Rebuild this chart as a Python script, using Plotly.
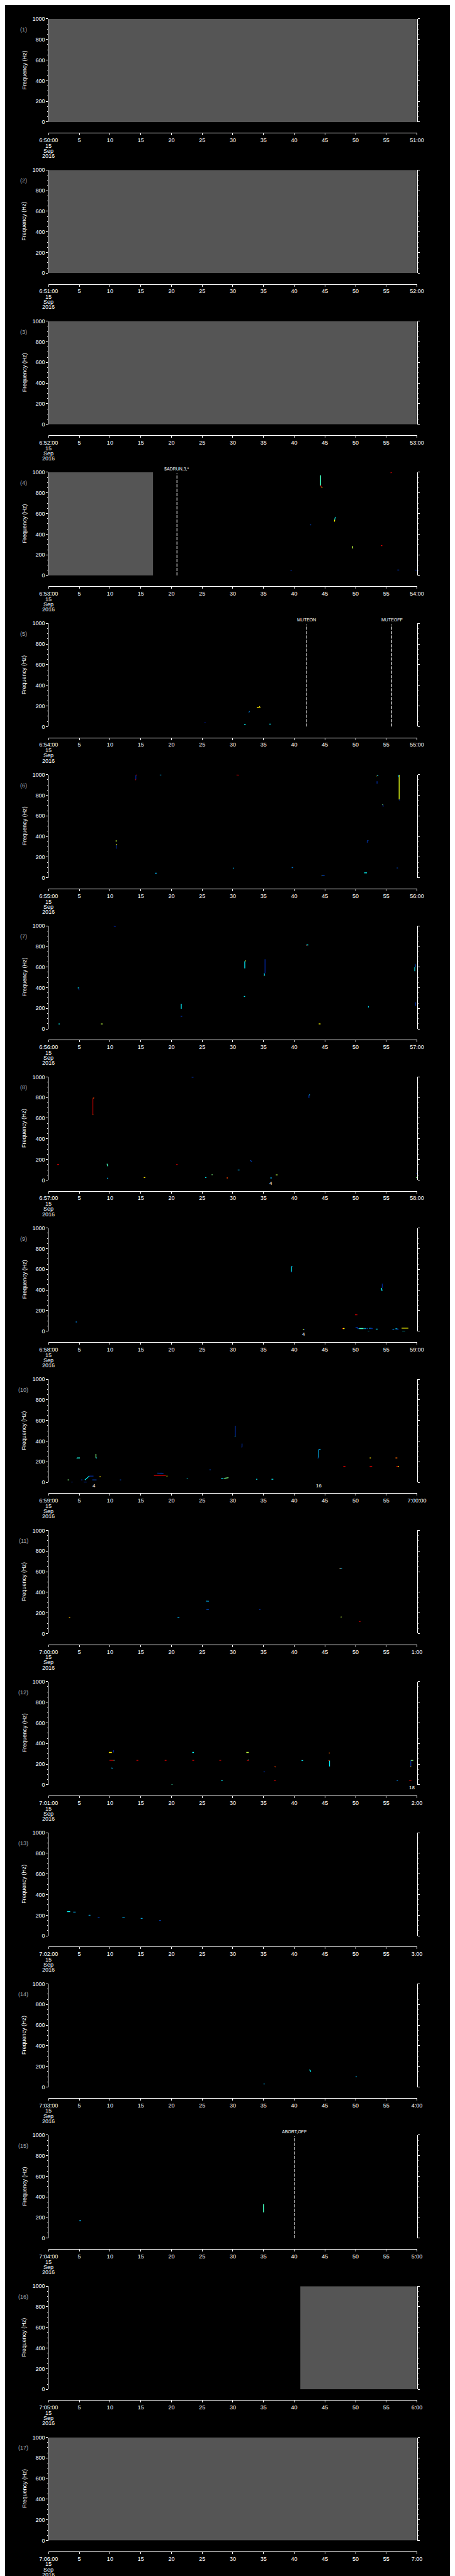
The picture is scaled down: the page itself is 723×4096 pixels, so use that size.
import plotly.graph_objects as go
from plotly.colors import sample_colorscale

# ---------------- data ----------------
PANEL_STARTS = ["6:50:00", "6:51:00", "6:52:00", "6:53:00", "6:54:00", "6:55:00",
                "6:56:00", "6:57:00", "6:58:00", "6:59:00", "7:00:00", "7:01:00",
                "7:02:00", "7:03:00", "7:04:00", "7:05:00", "7:06:00"]
PANEL_ENDS = ["51:00", "52:00", "53:00", "54:00", "55:00", "56:00", "57:00", "58:00",
              "59:00", "7:00:00", "1:00", "2:00", "3:00", "4:00", "5:00", "6:00", "7:00"]
TICK_SECONDS = [0, 5, 10, 15, 20, 25, 30, 35, 40, 45, 50, 55, 60]
FREQ_TICKS = [0, 200, 400, 600, 800, 1000]
DATE_LINES = ["15", "Sep", "2016"]

# (panel, start s, end s) spans without data
NO_DATA = [(1, 0, 60), (2, 0, 60), (3, 0, 60), (4, 0, 17.0), (16, 41.0, 60), (17, 0, 60)]
# (panel, second, label)
EVENTS = [(4, 20.9, "$ADRUN,3,*"), (5, 42.0, "MUTEON"), (5, 55.9, "MUTEOFF"), (15, 40.0, "ABORT,OFF")]
# (panel, second, label) small counters under the plot
COUNTS = [(8, 36.2, "4"), (9, 41.5, "4"), (10, 7.4, "4"), (10, 44.0, "16"), (12, 59.2, "18")]

# marks: (t0 s, t1 s, f0 Hz, f1 Hz, intensity 0..1)
MARKS_4 = [(44.3, 44.3, 970, 872, 0.45), (44.3, 44.45, 872, 855, 0.87), (44.45, 44.6, 855, 852, 0.62),
           (42.6, 42.75, 494, 488, 0.2), (46.7, 46.6, 568, 540, 0.4), (46.6, 46.55, 540, 522, 0.6),
           (49.5, 49.55, 284, 262, 0.55), (54.15, 54.35, 289, 289, 0.8), (55.7, 55.9, 995, 998, 0.87),
           (39.4, 39.6, 49, 49, 0.15), (56.8, 57.1, 53, 53, 0.15), (59.7, 60.0, 53, 50, 0.15)]
MARKS_5 = [(25.4, 25.55, 41, 41, 0.08), (31.85, 32.1, 23, 22, 0.4), (32.6, 32.75, 137, 150, 0.25),
           (33.9, 34.5, 187, 187, 0.62), (34.35, 34.4, 198, 188, 0.62), (35.95, 36.2, 24, 24, 0.38)]
MARKS_6 = [(14.2, 14.2, 995, 952, 0.12), (14.2, 14.4, 998, 998, 0.87), (14.1, 14.2, 952, 948, 0.87),
           (18.1, 18.35, 998, 998, 0.3), (30.6, 31.0, 998, 996, 0.87), (53.5, 53.7, 995, 990, 0.3),
           (53.45, 53.5, 988, 985, 0.62), (53.5, 53.5, 935, 912, 0.15), (57.1, 57.1, 1000, 758, 0.58),
           (56.95, 57.05, 995, 975, 0.3), (57.1, 57.2, 758, 750, 0.15), (54.45, 54.5, 712, 690, 0.15),
           (54.4, 54.45, 712, 705, 0.5), (10.9, 11.15, 357, 357, 0.55), (11.0, 11.0, 320, 282, 0.15),
           (11.0, 11.15, 322, 322, 0.6), (51.9, 51.9, 358, 340, 0.15), (51.9, 52.1, 360, 360, 0.2),
           (17.3, 17.6, 44, 44, 0.3), (30.0, 30.2, 92, 95, 0.3), (39.6, 39.85, 99, 99, 0.25),
           (44.5, 44.95, 20, 22, 0.2), (44.5, 44.55, 18, 20, 0.6), (51.4, 51.85, 48, 48, 0.4),
           (56.7, 56.9, 95, 95, 0.2)]
MARKS_7 = [(10.6, 10.9, 999, 990, 0.1), (42.0, 42.3, 814, 814, 0.4), (41.95, 42.0, 812, 806, 0.85),
           (31.95, 31.95, 655, 587, 0.38), (32.0, 32.15, 660, 660, 0.55), (35.25, 35.25, 676, 540, 0.12),
           (35.1, 35.2, 540, 516, 0.35), (35.05, 35.1, 516, 514, 0.62), (59.65, 59.65, 598, 560, 0.38),
           (59.7, 59.8, 630, 598, 0.2), (4.75, 4.95, 397, 397, 0.4), (4.9, 4.95, 394, 376, 0.12),
           (21.6, 21.6, 244, 196, 0.38), (31.8, 32.0, 315, 315, 0.38), (21.5, 21.75, 122, 122, 0.15),
           (52.1, 52.1, 222, 208, 0.35), (59.8, 59.8, 258, 225, 0.15), (1.6, 1.8, 49, 49, 0.4),
           (8.5, 8.8, 49, 49, 0.55), (44.0, 44.3, 49, 49, 0.6)]
MARKS_8 = [(23.3, 23.6, 997, 997, 0.15), (7.2, 7.2, 790, 634, 0.92), (7.2, 7.4, 793, 797, 0.75),
           (7.2, 7.25, 636, 632, 0.72), (42.4, 42.4, 824, 796, 0.15), (42.4, 42.6, 826, 826, 0.3),
           (1.4, 1.7, 151, 151, 0.9), (9.5, 9.65, 158, 134, 0.45), (20.8, 21.0, 151, 151, 0.85),
           (32.8, 33.1, 192, 180, 0.2), (30.8, 31.1, 98, 98, 0.3), (26.55, 26.7, 52, 52, 0.5),
           (9.5, 9.7, 18, 18, 0.3), (15.5, 15.75, 25, 25, 0.62), (25.5, 25.7, 25, 25, 0.38),
           (29.0, 29.2, 21, 21, 0.75), (36.1, 36.35, 21, 21, 0.3), (37.0, 37.3, 51, 51, 0.55),
           (59.85, 60.0, 63, 63, 0.15), (59.85, 60.0, 25, 25, 0.5)]
MARKS_9 = [(39.55, 39.55, 626, 578, 0.38), (39.5, 39.55, 578, 570, 0.12), (39.55, 39.7, 628, 628, 0.3),
           (54.35, 54.35, 462, 420, 0.12), (54.2, 54.3, 420, 398, 0.38), (54.2, 54.35, 404, 392, 0.38),
           (4.4, 4.6, 90, 90, 0.25), (41.4, 41.6, 18, 18, 0.55), (41.6, 41.8, 18, 18, 0.15),
           (49.9, 50.3, 159, 159, 0.85), (47.8, 47.95, 25, 25, 0.85), (47.95, 48.2, 26, 26, 0.6),
           (50.0, 50.4, 38, 38, 0.15), (50.3, 50.6, 25, 25, 0.2), (50.6, 51.3, 26, 26, 0.45),
           (51.4, 51.7, 26, 26, 0.3), (51.8, 52.0, 26, 26, 0.2), (52.2, 52.6, 28, 28, 0.3),
           (52.4, 52.8, 26, 26, 0.15), (53.3, 53.6, 21, 21, 0.35), (52.0, 52.25, 0, 0, 0.35),
           (56.0, 56.3, 18, 20, 0.25), (56.5, 56.8, 24, 24, 0.38), (56.6, 57.0, 20, 20, 0.2),
           (57.5, 58.6, 30, 30, 0.6), (57.6, 58.1, 0, 0, 0.38)]
MARKS_10 = [(30.4, 30.4, 550, 450, 0.15), (30.3, 30.45, 447, 447, 0.3), (31.5, 31.5, 376, 345, 0.15),
            (31.4, 31.55, 343, 343, 0.12), (43.95, 43.95, 318, 240, 0.3), (44.0, 44.3, 320, 320, 0.3),
            (43.8, 44.0, 236, 236, 0.2), (4.6, 5.1, 237, 237, 0.42), (4.55, 4.65, 233, 237, 0.38),
            (7.7, 7.7, 275, 237, 0.5), (7.7, 7.85, 237, 237, 0.35), (48.0, 48.35, 156, 156, 0.85),
            (52.3, 52.7, 156, 156, 0.87), (56.65, 57.0, 156, 156, 0.87), (56.9, 57.05, 156, 156, 0.6),
            (52.3, 52.5, 237, 237, 0.62), (56.5, 56.8, 237, 237, 0.72), (17.15, 19.1, 66, 66, 0.9),
            (17.7, 18.7, 90, 88, 0.18), (26.2, 26.4, 124, 122, 0.2), (22.5, 22.6, 38, 35, 0.38),
            (28.1, 28.5, 40, 35, 0.35), (28.6, 29.3, 40, 46, 0.5), (33.8, 34.0, 31, 31, 0.38),
            (36.3, 36.6, 31, 31, 0.38), (5.9, 6.6, 24, 61, 0.38), (6.6, 7.3, 61, 61, 0.15),
            (3.1, 3.3, 24, 24, 0.5), (3.7, 3.9, 3, 3, 0.15), (5.3, 5.5, 24, 24, 0.15),
            (5.7, 6.2, 3, 3, 0.15), (7.1, 7.8, 24, 24, 0.2), (11.6, 11.8, 24, 24, 0.2),
            (8.3, 8.45, 57, 57, 0.62), (19.2, 19.35, 61, 61, 0.6)]
MARKS_11 = [(3.3, 3.5, 155, 155, 0.65), (21.0, 21.3, 157, 155, 0.3), (25.6, 26.1, 315, 313, 0.3),
            (25.7, 26.1, 232, 232, 0.2), (34.3, 34.5, 232, 232, 0.15), (47.4, 47.8, 632, 632, 0.3),
            (47.4, 47.55, 630, 628, 0.72), (47.6, 47.7, 162, 158, 0.55), (50.6, 50.8, 116, 116, 0.87)]
MARKS_12 = [(9.8, 10.3, 313, 313, 0.62), (10.55, 10.55, 334, 313, 0.12), (9.9, 10.6, 236, 236, 0.9),
            (10.6, 10.7, 236, 236, 0.45), (10.2, 10.45, 162, 160, 0.3), (14.3, 14.6, 236, 236, 0.85),
            (18.9, 19.2, 236, 236, 0.85), (23.4, 23.65, 313, 313, 0.4), (23.4, 23.7, 236, 236, 0.85),
            (27.8, 28.1, 236, 236, 0.9), (32.3, 32.6, 236, 236, 0.87), (32.5, 32.6, 240, 240, 0.45),
            (32.2, 32.6, 313, 313, 0.55), (20.0, 20.2, 0, 0, 0.45), (28.1, 28.35, 43, 43, 0.38),
            (35.0, 35.25, 125, 125, 0.15), (36.8, 37.0, 175, 172, 0.75), (36.7, 37.0, 43, 43, 0.85),
            (41.2, 41.45, 235, 235, 0.38), (45.65, 45.8, 308, 308, 0.72), (45.75, 45.75, 233, 178, 0.38),
            (45.6, 45.75, 235, 235, 0.75), (56.7, 56.9, 39, 39, 0.25), (58.7, 59.1, 43, 43, 0.92),
            (59.0, 59.0, 235, 178, 0.15), (59.0, 59.4, 236, 236, 0.5), (58.95, 59.05, 175, 175, 0.62)]
MARKS_13 = [(3.0, 3.5, 235, 235, 0.4), (4.0, 4.4, 230, 230, 0.3), (6.5, 6.8, 200, 200, 0.3),
            (8.0, 8.3, 180, 180, 0.2), (12.0, 12.4, 175, 175, 0.3), (15.0, 15.3, 170, 170, 0.3),
            (18.0, 18.3, 150, 150, 0.2)]
MARKS_14 = [(35.0, 35.2, 30, 30, 0.3), (42.5, 42.7, 170, 150, 0.4), (50.0, 50.2, 100, 100, 0.3)]
MARKS_15 = [(35.0, 35.0, 330, 250, 0.45), (5.0, 5.3, 170, 170, 0.3)]
MARKS_16 = []

PANEL_MARKS = {4: MARKS_4, 5: MARKS_5, 6: MARKS_6, 7: MARKS_7, 8: MARKS_8, 9: MARKS_9,
               10: MARKS_10, 11: MARKS_11, 12: MARKS_12, 13: MARKS_13, 14: MARKS_14,
               15: MARKS_15, 16: MARKS_16}

# ---------------- geometry (reference pixels -> paper) ----------------
REF_W, REF_H = 1024.0, 5802.0
PITCH = 341.29
TOP0 = 24.0
PLOT_H = 233.0
XL, XR = 80.3, 945.0
FONT = "Liberation Sans, Arial, sans-serif"


def px(x):
    return x / REF_W


def py(y):
    return 1 - y / REF_H


fig = go.Figure()
layout = dict(
    width=723, height=4096, margin=dict(l=0, r=0, t=0, b=0),
    paper_bgcolor="black", plot_bgcolor="black", showlegend=False,
    font=dict(family=FONT, color="white", size=9),
)
shapes, annotations = [], []

for k in range(1, 18):
    T = TOP0 + (k - 1) * PITCH
    xs = "" if k == 1 else str(k)
    xref, yref = "x" + xs, "y" + xs
    ticktext = [PANEL_STARTS[k - 1]] + [str(s) for s in TICK_SECONDS[1:-1]] + [PANEL_ENDS[k - 1]]
    layout["xaxis" + xs] = dict(
        domain=[px(XL), px(XR)], anchor="free", position=py(T + 257.5), range=[0, 60],
        tickvals=TICK_SECONDS, ticktext=ticktext, ticks="outside", ticklen=3, tickwidth=1,
        tickcolor="white", showline=True, linecolor="white", linewidth=1,
        showgrid=False, zeroline=False, fixedrange=True, tickfont=dict(size=9, color="white"),
    )
    layout["yaxis" + xs] = dict(
        domain=[py(T + PLOT_H), py(T)], anchor=xref, range=[0, 1000],
        tickvals=FREQ_TICKS, ticks="outside", ticklen=3, tickwidth=1, tickcolor="white",
        showline=True, linecolor="white", linewidth=1, mirror="ticks",
        minor=dict(dtick=50, ticks="outside", ticklen=1.6, tickcolor="white", showgrid=False),
        showgrid=False, zeroline=False, fixedrange=True, tickfont=dict(size=9, color="white"),
    )
    annotations.append(dict(text="Frequency (Hz)", x=px(23), y=py(T + 116.5), xref="paper",
                            yref="paper", textangle=-90, showarrow=False,
                            font=dict(size=9, color="white"), xanchor="center", yanchor="middle"))
    annotations.append(dict(text=f"({k})", x=px(21), y=py(T + 24), xref="paper", yref="paper",
                            showarrow=False, font=dict(size=9, color="#a8a8a8"),
                            xanchor="center", yanchor="middle"))
    for i, line in enumerate(DATE_LINES):
        annotations.append(dict(text=line, x=px(XL), y=py(T + 286.7 + 11.6 * i), xref="paper",
                                yref="paper", showarrow=False, font=dict(size=9, color="white"),
                                xanchor="center", yanchor="middle"))

for (k, t0, t1) in NO_DATA:
    xs = "" if k == 1 else str(k)
    shapes.append(dict(type="rect", xref="x" + xs, yref="y" + xs, x0=t0, x1=t1, y0=0, y1=1000,
                       fillcolor="#555555", line=dict(width=0), layer="below"))

for (k, t, label) in EVENTS:
    xs = "" if k == 1 else str(k)
    T = TOP0 + (k - 1) * PITCH
    shapes.append(dict(type="line", xref="x" + xs, yref="y" + xs, x0=t, x1=t, y0=0, y1=990,
                       line=dict(color="white", width=1, dash="5px,2px")))
    annotations.append(dict(text=label, x=t, xref="x" + xs, y=py(T - 8), yref="paper",
                            showarrow=False, font=dict(size=7, color="white"),
                            xanchor="center", yanchor="middle"))

for (k, t, label) in COUNTS:
    xs = "" if k == 1 else str(k)
    T = TOP0 + (k - 1) * PITCH
    annotations.append(dict(text=label, x=t, xref="x" + xs, y=py(T + 240), yref="paper",
                            showarrow=False, font=dict(size=8, color="white"),
                            xanchor="center", yanchor="middle"))

for k, marks in PANEL_MARKS.items():
    xs = "" if k == 1 else str(k)
    for (t0, t1, f0, f1, v) in marks:
        col = sample_colorscale("Jet", [v])[0]
        fig.add_trace(go.Scatter(x=[t0, t1], y=[f0, f1], mode="lines",
                                 line=dict(color=col, width=1.3), xaxis="x" + xs, yaxis="y" + xs,
                                 hoverinfo="skip"))

layout["shapes"] = shapes
layout["annotations"] = annotations
fig.update_layout(**layout)
fig.write_html("out.html")
